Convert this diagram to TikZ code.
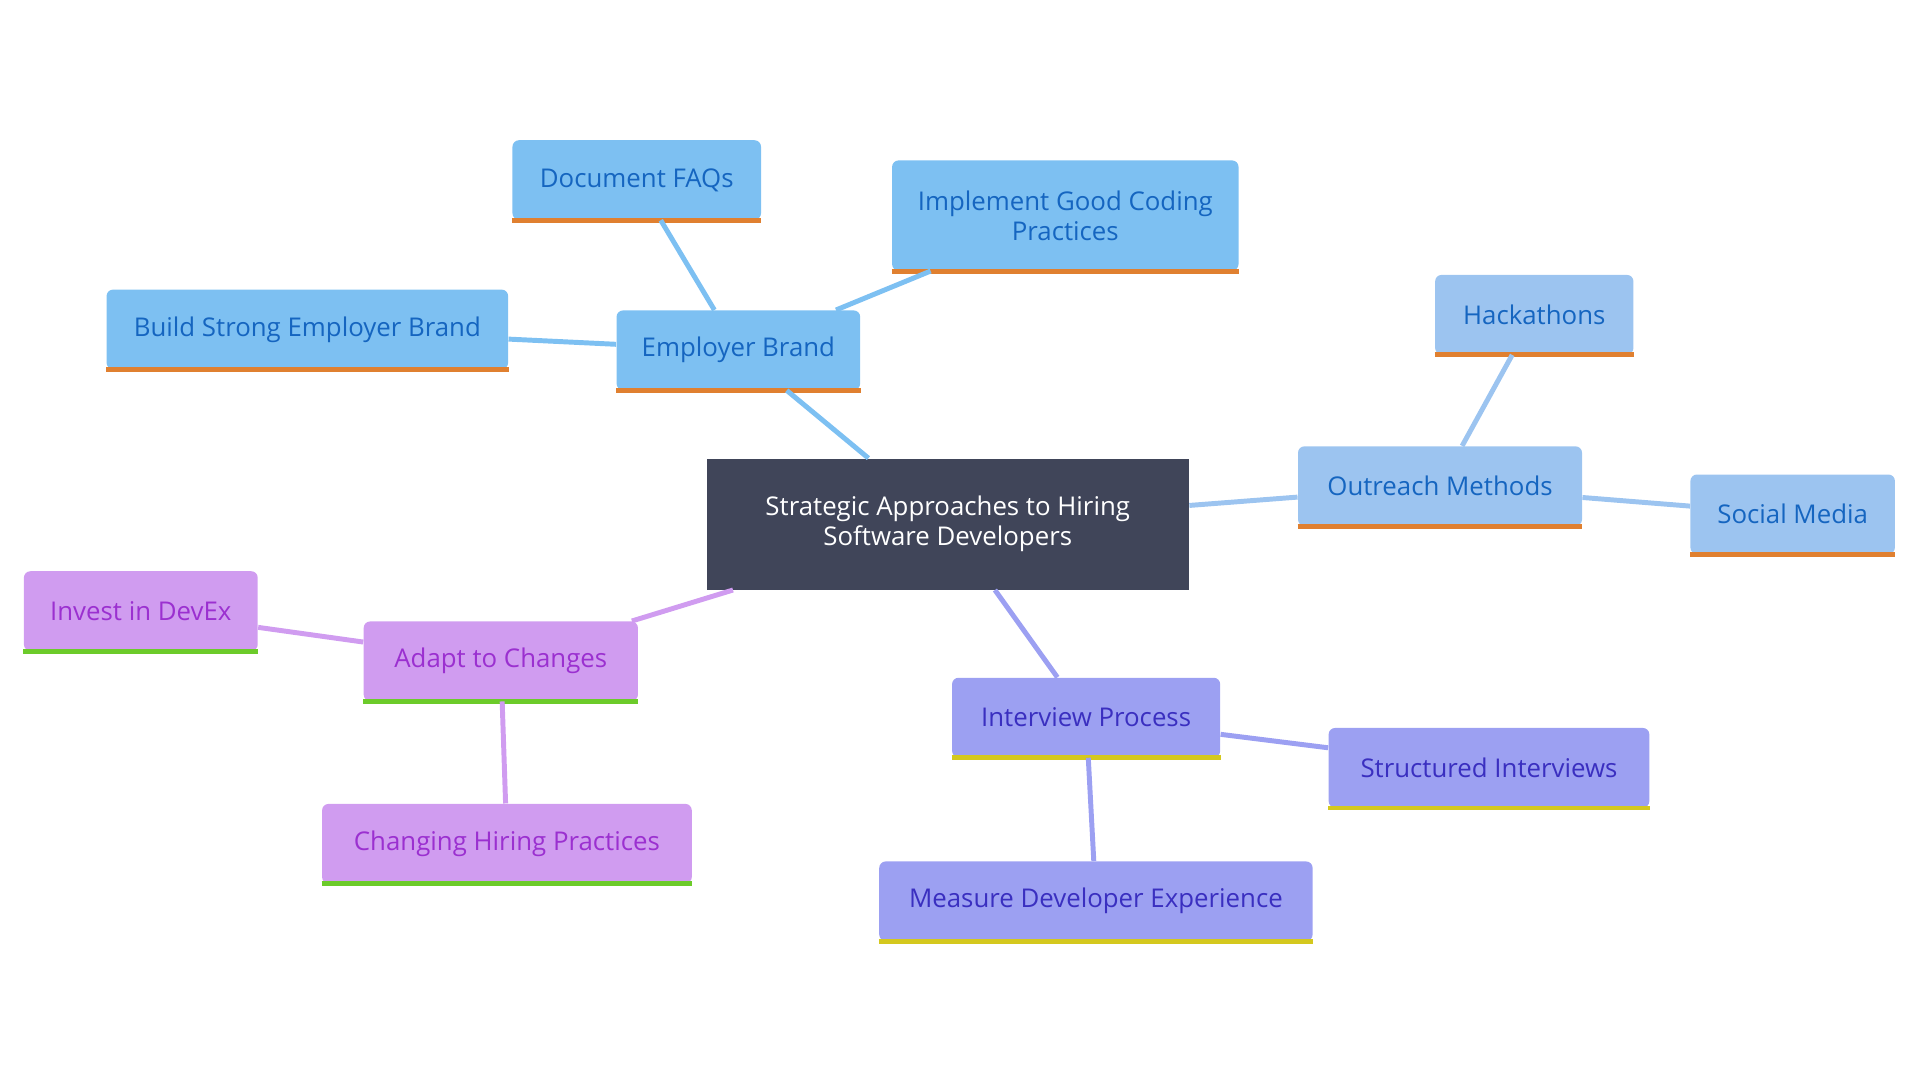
\documentclass[tikz,border=0pt]{standalone}
\usepackage{fontspec}
\setmainfont{Open Sans}
\usepackage{xcolor}
\usetikzlibrary{positioning,calc}
\definecolor{rootfill}{HTML}{404559}
\definecolor{brandfill}{HTML}{7DC0F2}
\definecolor{brandtext}{HTML}{1565C0}
\definecolor{outfill}{HTML}{9CC4F0}
\definecolor{intfill}{HTML}{9CA0F2}
\definecolor{inttext}{HTML}{3A2FC0}
\definecolor{adaptfill}{HTML}{D09CF0}
\definecolor{adapttext}{HTML}{9B30D0}
\definecolor{orangeline}{HTML}{E08030}
\definecolor{yellowline}{HTML}{D4C81E}
\definecolor{greenline}{HTML}{6CCB2A}
\begin{document}
\begin{tikzpicture}[
    x=0.02cm,
    y=-0.02cm,
    box/.style={rounded corners=3pt, inner sep=0pt, minimum height=1.3cm, align=center, font=\fontsize{12}{14}\selectfont},
    brand/.style={box, fill=brandfill, text=brandtext},
    outreach/.style={box, fill=outfill, text=brandtext},
    interview/.style={box, fill=intfill, text=inttext},
    adapt/.style={box, fill=adaptfill, text=adapttext},
    link/.style={line width=2.3pt}
]
    \useasboundingbox (0,0) rectangle (1568,882);

    % Root
    \node[box, fill=rootfill, text=white, minimum width=7.88cm, minimum height=2.14cm, rounded corners=0pt] (root) at (774,428) {Strategic Approaches to Hiring\\Software Developers};

    % Employer brand branch
    \node[brand, minimum width=3.98cm] (brand) at (603,286) {Employer Brand};
    \node[brand, minimum width=4.06cm] (faqs) at (520,147) {Document FAQs};
    \node[brand, minimum width=5.66cm, minimum height=1.8cm] (coding) at (870,176) {Implement Good Coding\\Practices};
    \node[brand, minimum width=6.56cm] (strong) at (251,269) {Build Strong Employer Brand};

    % Outreach branch
    \node[outreach, minimum width=4.64cm] (outreach) at (1176,397) {Outreach Methods};
    \node[outreach, minimum width=3.24cm] (hack) at (1253,257) {Hackathons};
    \node[outreach, minimum width=3.34cm] (social) at (1464,420) {Social Media};

    % Interview branch
    \node[interview, minimum width=4.38cm] (interview) at (887,586) {Interview Process};
    \node[interview, minimum width=5.24cm] (structured) at (1216,627) {Structured Interviews};
    \node[interview, minimum width=7.08cm] (measure) at (895,736) {Measure Developer Experience};

    % Adapt branch
    \node[adapt, minimum width=4.48cm] (adapt) at (409,540) {Adapt to Changes};
    \node[adapt, minimum width=3.82cm] (devex) at (115,499) {Invest in DevEx};
    \node[adapt, minimum width=6.04cm] (changing) at (414,689) {Changing Hiring Practices};

    % Bottom accents
    \foreach \n in {brand,faqs,coding,strong,outreach,hack,social}
        \draw[line width=2.3pt, orangeline] (\n.south west) -- (\n.south east);
    \foreach \n in {interview,structured,measure}
        \draw[line width=2.3pt, yellowline] (\n.south west) -- (\n.south east);
    \foreach \n in {adapt,devex,changing}
        \draw[line width=2.3pt, greenline] (\n.south west) -- (\n.south east);

    % Connectors
    \draw[link, brandfill] (root) -- (brand);
    \draw[link, brandfill] (brand) -- (faqs);
    \draw[link, brandfill] (brand) -- (coding);
    \draw[link, brandfill] (brand) -- (strong);
    \draw[link, outfill] (root) -- (outreach);
    \draw[link, outfill] (outreach) -- (hack);
    \draw[link, outfill] (outreach) -- (social);
    \draw[link, intfill] (root) -- (interview);
    \draw[link, intfill] (interview) -- (structured);
    \draw[link, intfill] (interview) -- (measure);
    \draw[link, adaptfill] (root) -- (adapt);
    \draw[link, adaptfill] (adapt) -- (devex);
    \draw[link, adaptfill] (adapt) -- (changing);
\end{tikzpicture}
\end{document}
